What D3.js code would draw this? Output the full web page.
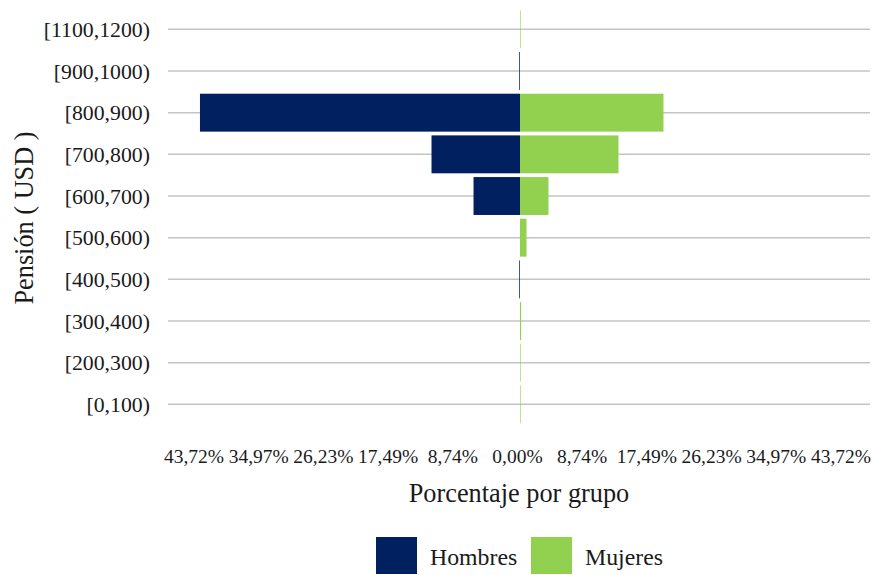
<!DOCTYPE html>
<html>
<head>
<meta charset="utf-8">
<script src="https://cdn.jsdelivr.net/npm/d3@7"></script>
<style>
  body { margin: 0; background: #fff; }
</style>
</head>
<body>
<div id="chart"></div>
<script>
// Pirámide de pensiones por sexo

// Datos
const categorias = ["[1100,1200)", "[900,1000)", "[800,900)", "[700,800)", "[600,700)",
                    "[500,600)", "[400,500)", "[300,400)", "[200,300)", "[0,100)"];
const hombres = [0, 0.1, 43.25, 11.96, 6.28, 0, 0.1, 0, 0, 0];
const mujeres = [0.08, 0, 19.39, 13.31, 3.85, 0.88, 0, 0.15, 0.08, 0.08];
const tickValues = [-43.72, -34.97, -26.23, -17.49, -8.74, 0, 8.74, 17.49, 26.23, 34.97, 43.72];
const tickLabels = ["43,72%", "34,97%", "26,23%", "17,49%", "8,74%", "0,00%",
                    "8,74%", "17,49%", "26,23%", "34,97%", "43,72%"];
const series = ["Hombres", "Mujeres"];
const colores = ["#002060", "#92D050"];

const FONT = "'Liberation Serif', Tinos, 'Times New Roman', Times, 'DejaVu Serif', serif";

function createChart() {
    const W = 874, H = 575;
    const gridLeft = 168, gridRight = 870;

    const svg = d3.select("#chart")
        .append("svg")
        .attr("width", W)
        .attr("height", H)
        .style("font-family", FONT);

    // Escalas
    const x = d3.scaleLinear()
        .domain([-43.72, 43.72])
        .range([520 - 323.5, 520 + 323.5]);

    const y = d3.scaleBand()
        .domain(categorias)
        .range([8.5, 425.2])
        .paddingInner(0.09)
        .paddingOuter(0.045);

    // Grilla horizontal
    svg.append("g")
        .selectAll("line")
        .data(categorias)
        .enter()
        .append("line")
        .attr("x1", gridLeft)
        .attr("x2", gridRight)
        .attr("y1", d => y(d) + y.bandwidth() / 2)
        .attr("y2", d => y(d) + y.bandwidth() / 2)
        .attr("stroke", "#c4c4c4")
        .attr("stroke-width", 1.5);

    // Etiquetas del eje Y
    svg.append("g")
        .selectAll("text")
        .data(categorias)
        .enter()
        .append("text")
        .attr("x", 150)
        .attr("y", d => y(d) + y.bandwidth() / 2)
        .attr("dy", "0.35em")
        .attr("text-anchor", "end")
        .style("font-family", FONT)
        .style("font-size", "21.8px")
        .attr("fill", "#1a1a1a")
        .text(d => d);

    // Barras hombres (izquierda)
    svg.append("g")
        .selectAll("rect")
        .data(categorias)
        .enter()
        .append("rect")
        .attr("x", (d, i) => x(-hombres[i]))
        .attr("y", d => y(d))
        .attr("width", (d, i) => x(0) - x(-hombres[i]))
        .attr("height", y.bandwidth())
        .attr("fill", colores[0]);

    // Barras mujeres (derecha)
    svg.append("g")
        .selectAll("rect")
        .data(categorias)
        .enter()
        .append("rect")
        .attr("x", x(0))
        .attr("y", d => y(d))
        .attr("width", (d, i) => x(mujeres[i]) - x(0))
        .attr("height", y.bandwidth())
        .attr("fill", colores[1]);

    // Eje X (solo etiquetas)
    const xAxis = svg.append("g")
        .attr("transform", "translate(0,463)")
        .call(d3.axisBottom(x)
            .tickValues(tickValues)
            .tickSize(0)
            .tickPadding(0)
            .tickFormat((d, i) => tickLabels[i]));
    xAxis.attr("font-family", null).attr("font-size", null);
    xAxis.select(".domain").remove();
    xAxis.selectAll("text")
        .attr("dy", 0)
        .attr("y", 0)
        .attr("dx", -3)
        .style("font-size", "19.5px")
        .style("font-family", FONT)
        .attr("fill", "#1a1a1a");

    // Títulos de ejes
    svg.append("text")
        .attr("x", 519)
        .attr("y", 502)
        .attr("text-anchor", "middle")
        .style("font-family", FONT)
        .style("font-size", "26.3px")
        .attr("fill", "#1a1a1a")
        .text("Porcentaje por grupo");

    svg.append("text")
        .attr("transform", "translate(33,218) rotate(-90)")
        .attr("text-anchor", "middle")
        .style("font-family", FONT)
        .style("font-size", "26.3px")
        .attr("fill", "#1a1a1a")
        .text("Pensión ( USD )");

    // Leyenda
    const legendX = [376, 531];
    const legend = svg.append("g");
    series.forEach((s, i) => {
        legend.append("rect")
            .attr("x", legendX[i])
            .attr("y", 537)
            .attr("width", 41)
            .attr("height", 37)
            .attr("fill", colores[i]);
        legend.append("text")
            .attr("x", legendX[i] + 54)
            .attr("y", 565)
            .style("font-family", FONT)
            .style("font-size", "23.8px")
            .attr("fill", "#1a1a1a")
            .text(s);
    });
}

createChart();
</script>
</body>
</html>
